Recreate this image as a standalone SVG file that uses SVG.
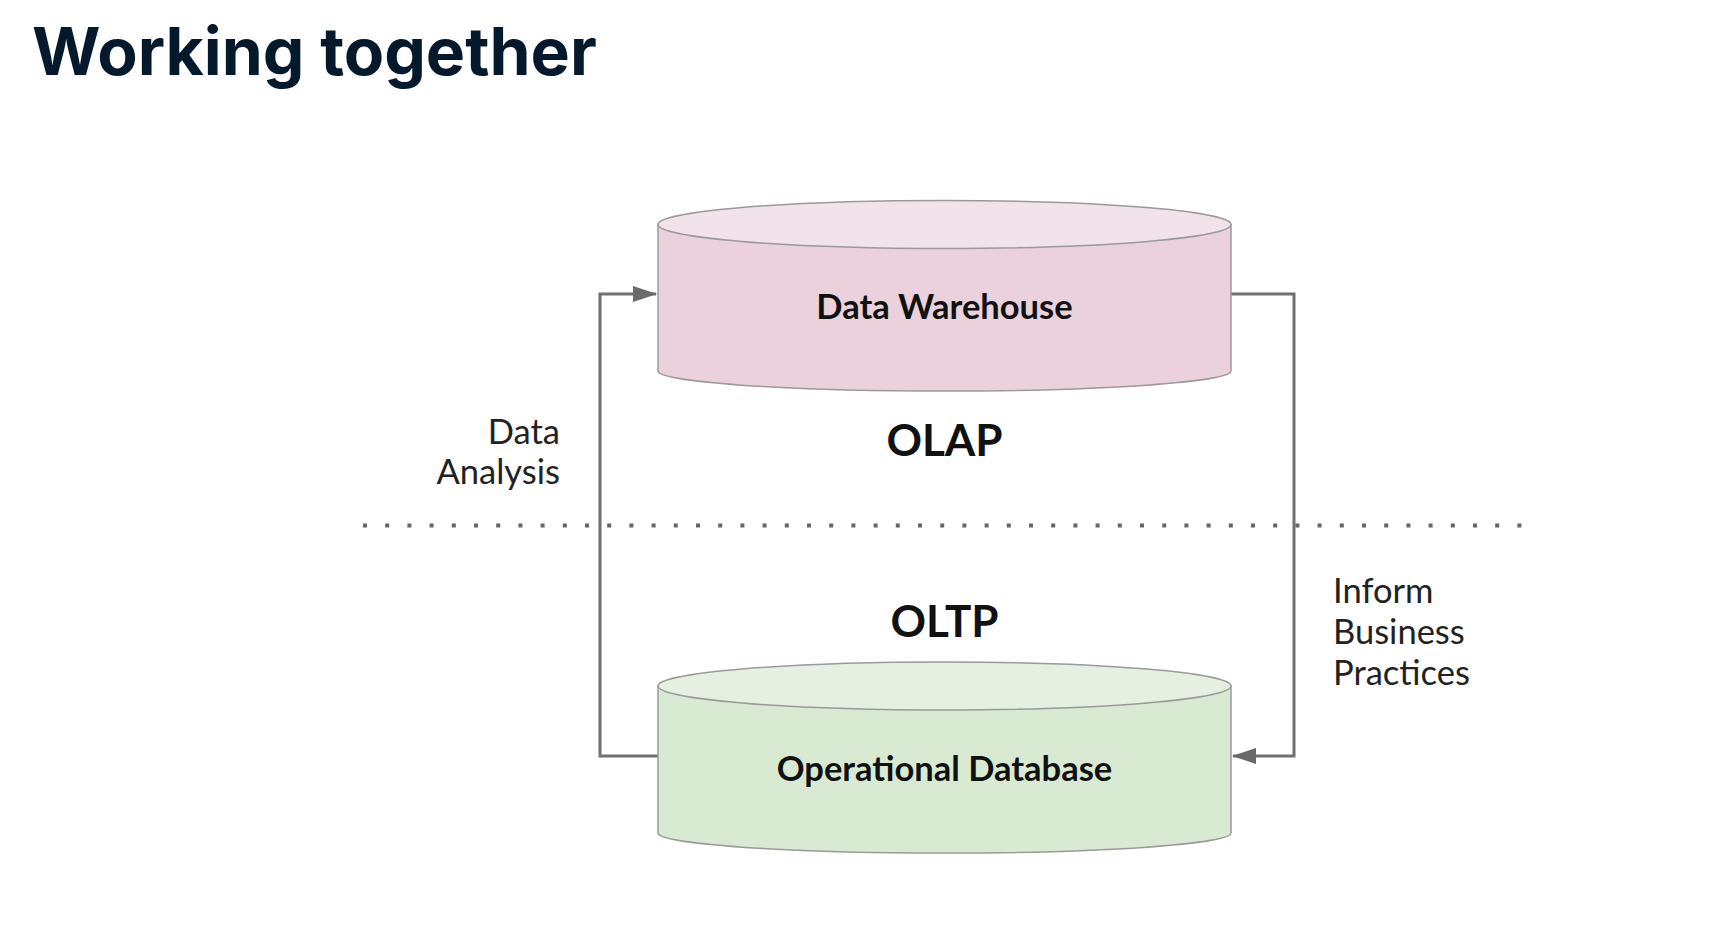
<svg xmlns="http://www.w3.org/2000/svg" width="1720" height="941" viewBox="0 0 1720 941">
<style>
.title{font-family:Inter,"Liberation Sans",sans-serif;font-weight:700;font-size:66px;fill:#05192D}
.node{font-family:Lato,"Liberation Sans",sans-serif;font-weight:700;font-size:34.5px;fill:#111;text-anchor:middle}
.big{font-family:Lato,"Liberation Sans",sans-serif;font-weight:700;font-size:44px;fill:#111;text-anchor:middle}
.lbl{font-family:Lato,"Liberation Sans",sans-serif;font-weight:400;font-size:34.5px;fill:#222}
.cyl{stroke:#9a9a9a;stroke-width:1.5}
.conn{fill:none;stroke:#707070;stroke-width:3}
</style>
<defs>
<marker id="arr" markerUnits="userSpaceOnUse" markerWidth="24" markerHeight="16" refX="23" refY="8" orient="auto">
<path d="M0,0 L24,8 L0,16 Z" fill="#6a6a6a"/>
</marker>
</defs>
<rect width="1720" height="941" fill="#ffffff"/>
<text class="title" x="32" y="75">Working together</text>
<line x1="363" y1="525.5" x2="1522" y2="525.5" stroke="#666" stroke-width="4" stroke-dasharray="4 18.2"/>
<g id="connectors">
<path class="conn" d="M658,756 H600 V294 H656" marker-end="url(#arr)"/>
<path class="conn" d="M1231,294 H1294 V756 H1233" marker-end="url(#arr)"/>
</g>
<g id="data-warehouse">
<path class="cyl" fill="#EAD1DC" d="M658,224.5 V371 A286.5,20 0 0 0 1231,371 V224.5 Z"/>
<ellipse class="cyl" fill="#F2E2E9" cx="944.5" cy="224.5" rx="286.5" ry="24"/>
<text class="node" x="944.5" y="319">Data Warehouse</text>
</g>
<g id="operational-database">
<path class="cyl" fill="#D9EAD3" d="M658,686 V833 A286.5,20 0 0 0 1231,833 V686 Z"/>
<ellipse class="cyl" fill="#E5F0E1" cx="944.5" cy="686" rx="286.5" ry="24"/>
<text class="node" x="944.5" y="781">Operational Database</text>
</g>
<g id="olap"><text class="big" x="944.5" y="456">OLAP</text></g>
<g id="oltp"><text class="big" x="944.5" y="637">OLTP</text></g>
<g id="data-analysis-label">
<text class="lbl" x="560" y="444" text-anchor="end">Data</text>
<text class="lbl" x="560" y="484" text-anchor="end">Analysis</text>
</g>
<g id="inform-label">
<text class="lbl" x="1333" y="603">Inform</text>
<text class="lbl" x="1333" y="644">Business</text>
<text class="lbl" x="1333" y="685">Practices</text>
</g>
</svg>
